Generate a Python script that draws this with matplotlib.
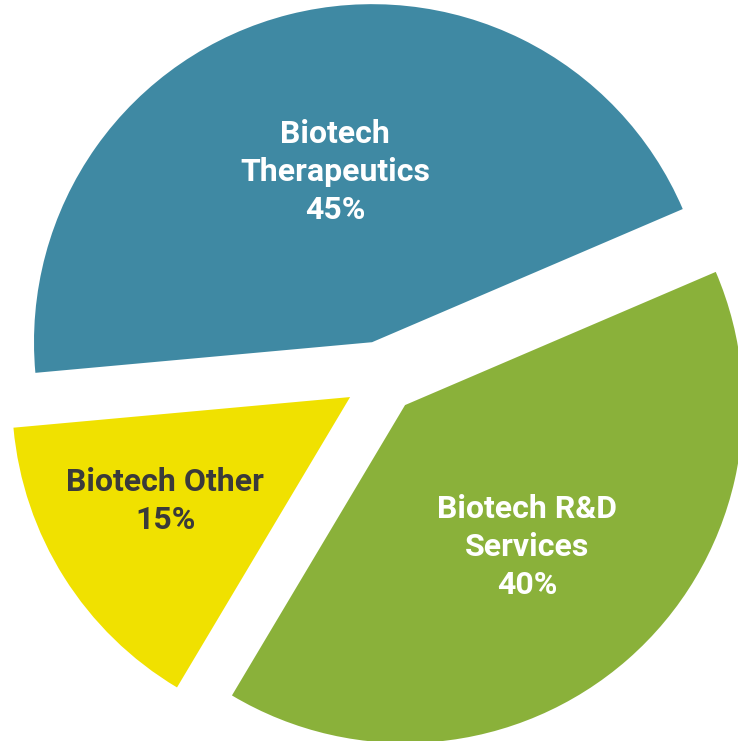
import matplotlib
matplotlib.use("Agg")
import matplotlib.pyplot as plt

categories = ["Biotech\nTherapeutics", "Biotech Other", "Biotech R&D\nServices"]
shares = [45, 15, 40]
colors = ["#3f89a3", "#f0e100", "#8ab13a"]
text_colors = ["white", "#3a3a3a", "white"]
label_pos = [(-0.135, 0.608), (-0.638, -0.364), (0.432, -0.502)]

plt.rcParams['font.family'] = ['Roboto', 'DejaVu Sans']

fig = plt.figure(figsize=(7.38, 7.41), dpi=100)
ax = fig.add_axes([0, 0, 1, 1])
ax.pie(shares, colors=colors, startangle=23.2, counterclock=True,
       explode=[0.108] * len(shares), radius=1.0,
       wedgeprops=dict(linewidth=0))
for cat, val, tc, (x, y) in zip(categories, shares, text_colors, label_pos):
    ax.text(x, y, f"{cat}\n{val}%", ha='center', va='center', color=tc,
            fontsize=23, fontweight='bold', linespacing=1.34,
            multialignment='center')
ax.set_xlim(-1.127, 1.056)
ax.set_ylim(-1.075, 1.117)
ax.set_aspect('equal')
ax.axis('off')
fig.savefig("out.png", dpi=100)
